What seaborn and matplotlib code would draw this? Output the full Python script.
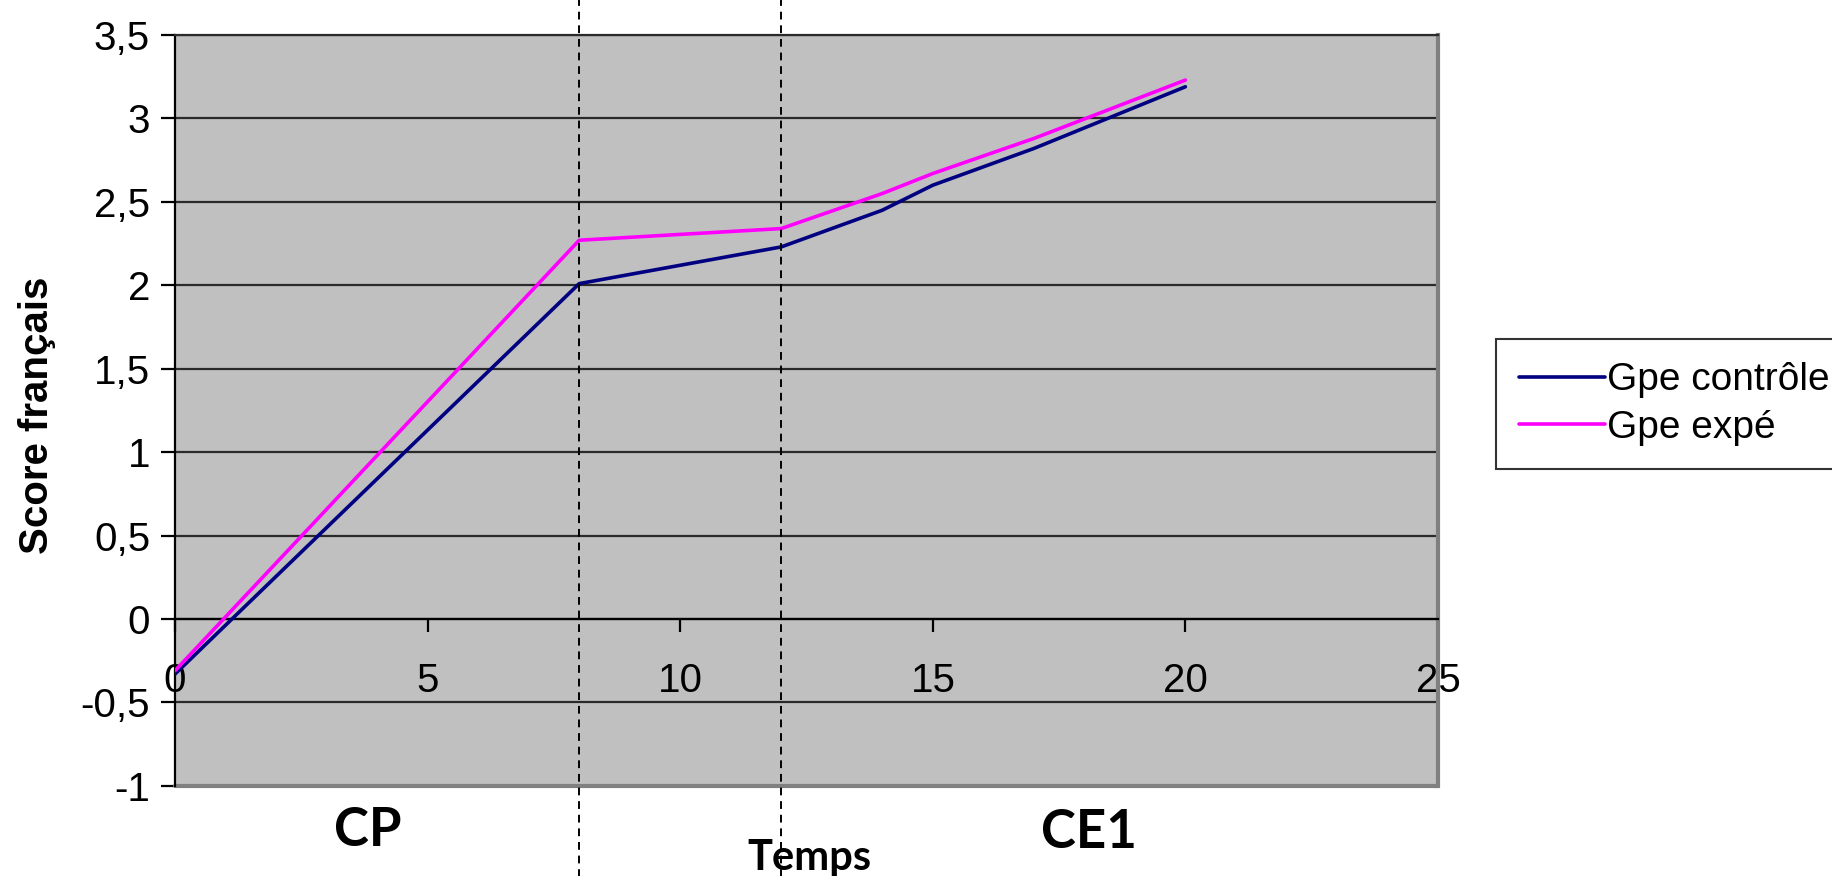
import matplotlib
matplotlib.use("Agg")
import matplotlib.pyplot as plt
import seaborn as sns
import pandas as pd
from matplotlib.lines import Line2D
from matplotlib.ticker import FuncFormatter, MultipleLocator

# Données
temps = [0, 8, 12, 14, 15, 17, 20]
gpe_controle = [-0.33, 2.01, 2.23, 2.45, 2.60, 2.82, 3.19]
gpe_expe = [-0.31, 2.27, 2.34, 2.55, 2.67, 2.88, 3.23]
series = ["Gpe contrôle", "Gpe expé"]
couleurs = ["#000080", "#FF00FF"]
separations = [8, 12]
periodes = ["CP", "Temps", "CE1"]
pos_periodes = [(3.82, -1.27), (12.55, -1.43), (18.1, -1.28)]
taille_periodes = [38, 30, 38]

df = pd.DataFrame({
    "Temps": temps * 2,
    "Score": gpe_controle + gpe_expe,
    "Groupe": [series[0]] * len(temps) + [series[1]] * len(temps),
})

sns.set_style("white")
plt.rcParams["font.family"] = ["Liberation Sans", "DejaVu Sans"]
plt.rcParams["text.color"] = "black"
plt.rcParams["axes.labelcolor"] = "black"
plt.rcParams["xtick.color"] = "black"
plt.rcParams["ytick.color"] = "black"

fig = plt.figure(figsize=(18.33, 8.76), dpi=100)
ax = fig.add_axes([0.0955, 0.103, 0.689, 0.857])
ax.set_facecolor("#C0C0C0")

sns.lineplot(data=df, x="Temps", y="Score", hue="Groupe", hue_order=series,
             palette=couleurs, linewidth=2.6, ax=ax, legend=False, zorder=3)

ax.set_xlim(0, 25)
ax.set_ylim(-1, 3.5)
ax.xaxis.set_major_locator(MultipleLocator(5))
ax.yaxis.set_major_locator(MultipleLocator(0.5))
fmt = FuncFormatter(lambda v, p: f"{v:g}".replace(".", ","))
ax.xaxis.set_major_formatter(fmt)
ax.yaxis.set_major_formatter(fmt)

# grille horizontale noire
ax.set_axisbelow(True)
ax.yaxis.grid(True, color="#2a2a2a", linewidth=1.6)
ax.xaxis.grid(False)

# axes style Excel
ax.spines["bottom"].set_position(("data", 0))
ax.spines["bottom"].set_color("black")
ax.spines["bottom"].set_linewidth(1.6)
ax.spines["left"].set_color("black")
ax.spines["left"].set_linewidth(1.6)
ax.spines["top"].set_color("#2a2a2a")
ax.spines["top"].set_linewidth(1.6)
ax.spines["right"].set_color("#808080")
ax.spines["right"].set_linewidth(3)
ax.axhline(-1, color="#808080", linewidth=3, clip_on=False, zorder=1)

ax.tick_params(axis="x", direction="out", length=9, width=1.6, color="black",
               labelsize=29, pad=22, bottom=True)
ax.tick_params(axis="y", direction="out", length=10, width=1.6, color="black",
               labelsize=29, pad=8, left=True)

ax.set_xlabel("")
ax.set_ylabel("Score français", fontsize=29, fontweight="bold")
ax.yaxis.set_label_coords(-0.094, 0.494)

# séparations CP / CE1 en pointillés
for s in separations:
    ax.plot([s, s], [-1.6, 3.8], linestyle=(0, (4, 3)), color="black",
            linewidth=1.4, clip_on=False, zorder=4)

for txt, (px, py), taille in zip(periodes, pos_periodes, taille_periodes):
    ax.text(px, py, txt, ha="center", va="center", fontsize=taille,
            fontweight="bold", family=["Lato", "DejaVu Sans"])

handles = [Line2D([0], [0], color=c, linewidth=2.6) for c in couleurs]
leg = fig.legend(handles, series, loc="upper left", bbox_to_anchor=(0.816, 0.613),
                 fontsize=28, frameon=True, fancybox=False, handlelength=2.2,
                 handletextpad=0.05, borderpad=0.6, labelspacing=0.3,
                 borderaxespad=0, handleheight=0.7)
leg.get_frame().set_edgecolor("black")
leg.get_frame().set_linewidth(1.5)

fig.savefig("out.png", dpi=100)
